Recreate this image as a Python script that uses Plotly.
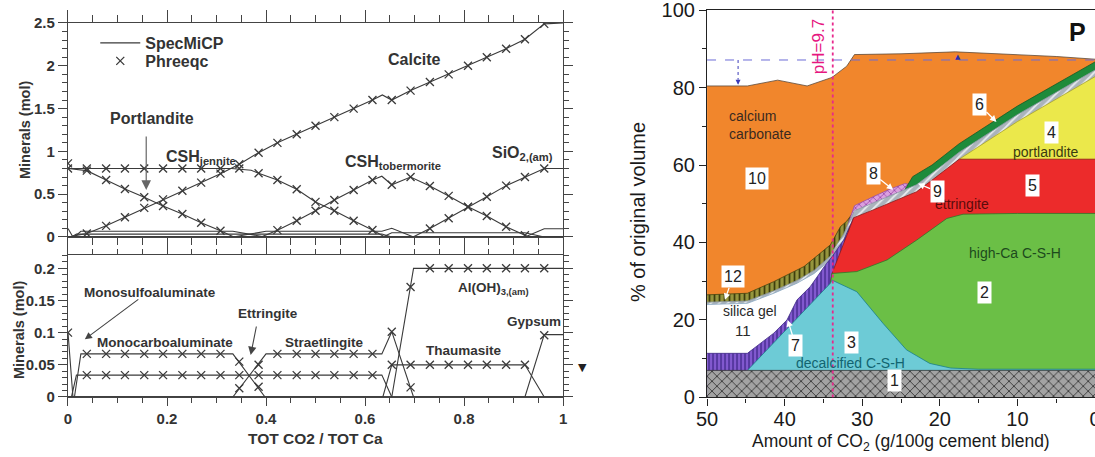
import plotly.graph_objects as go

# ======================= LEFT PANEL DATA =======================
x_phreeqc = [0, 0.038, 0.077, 0.115, 0.154, 0.192, 0.231, 0.269, 0.308, 0.346,
             0.385, 0.423, 0.462, 0.5, 0.538, 0.577, 0.615, 0.654, 0.692, 0.731,
             0.769, 0.808, 0.846, 0.885, 0.923, 0.962]
N = None
# --- upper panel (Phreeqc points) ---
calcite_phreeqc = [N, 0.04, 0.13, 0.23, 0.34, 0.44, 0.54, 0.635, 0.74, 0.85, 0.985, 1.10, 1.20,
                   1.30, 1.40, 1.50, 1.60, 1.60, 1.71, 1.81, 1.90, 2.00, 2.10, 2.20, 2.31, 2.49]
portlandite_phreeqc = [0.86, 0.775, 0.666, 0.56, 0.464, 0.362, 0.269, 0.167, 0.074, N, N, N, N,
                       N, N, N, N, N, N, N, N, N, N, N, N, N]
jennite_phreeqc = [0.8, 0.8, 0.8, 0.8, 0.8, 0.8, 0.8, 0.8, 0.8, 0.8, 0.744, 0.666, 0.557,
                   0.41, 0.307, 0.19, 0.082, N, N, N, N, N, N, N, N, N]
tobermorite_phreeqc = [N, N, N, N, N, N, N, N, N, N, N, 0.08, 0.19,
                       0.307, 0.432, 0.55, 0.666, 0.61, 0.70, 0.596, 0.48, 0.354, 0.245, 0.12, 0.02, N]
sio2_phreeqc = [N, N, N, N, N, N, N, N, N, N, N, N, N,
                N, N, N, N, N, N, 0.10, 0.22, 0.35, 0.47, 0.60, 0.70, 0.80]
# --- upper panel (SpecMiCP lines) ---
calcite_x = [0, 0.038, 0.077, 0.115, 0.154, 0.192, 0.231, 0.269, 0.308, 0.346, 0.385, 0.423, 0.462,
             0.5, 0.538, 0.577, 0.615, 0.635, 0.654, 0.692, 0.731, 0.769, 0.808, 0.846, 0.885, 0.923, 0.962, 1.0]
calcite_y = [0, 0.04, 0.13, 0.23, 0.34, 0.44, 0.54, 0.635, 0.74, 0.85, 0.985, 1.10, 1.20,
             1.30, 1.40, 1.50, 1.60, 1.66, 1.60, 1.71, 1.81, 1.90, 2.00, 2.10, 2.20, 2.31, 2.49, 2.5]
portlandite_x = [0, 0.038, 0.077, 0.115, 0.154, 0.192, 0.231, 0.269, 0.308, 0.335, 1.0]
portlandite_y = [0.8, 0.775, 0.666, 0.56, 0.464, 0.362, 0.269, 0.167, 0.074, 0, 0]
jennite_x = [0, 0.33, 0.37, 0.385, 0.423, 0.462, 0.5, 0.538, 0.577, 0.615, 0.64, 1.0]
jennite_y = [0.8, 0.8, 0.78, 0.744, 0.666, 0.557, 0.41, 0.307, 0.19, 0.082, 0, 0]
tobermorite_x = [0, 0.39, 0.423, 0.462, 0.5, 0.538, 0.577, 0.615, 0.634, 0.654, 0.692, 0.731,
                 0.769, 0.808, 0.846, 0.885, 0.923, 0.93, 1.0]
tobermorite_y = [0, 0, 0.08, 0.19, 0.307, 0.432, 0.55, 0.666, 0.71, 0.61, 0.70, 0.596,
                 0.48, 0.354, 0.245, 0.12, 0.02, 0, 0]
sio2_x = [0, 0.697, 0.731, 0.769, 0.808, 0.846, 0.885, 0.923, 0.962, 1.0]
sio2_y = [0, 0, 0.10, 0.22, 0.35, 0.47, 0.60, 0.70, 0.80, 0.80]

# --- lower panel (Phreeqc points) ---
monosulfo_phreeqc = [0.1, N, N, N, N, N, N, N, N, N, N, N, N, N, N, N, N, N, N, N, N, N, N, N, N, N]
monocarbo_phreeqc = [N, 0.067, 0.067, 0.067, 0.067, 0.067, 0.067, 0.067, 0.067, 0.055, 0.016, N, N,
                     N, N, N, N, N, N, N, N, N, N, N, N, N]
straetlingite_phreeqc = [N, N, N, N, N, N, N, N, N, 0.0135, 0.05, 0.067, 0.067,
                         0.067, 0.067, 0.067, 0.067, 0.1015, 0.015, N, N, N, N, N, N, N]
ettringite_phreeqc = [N, 0.034, 0.034, 0.034, 0.034, 0.034, 0.034, 0.034, 0.034, 0.034, 0.034, 0.034, 0.034,
                      0.034, 0.034, 0.034, 0.034, N, N, N, N, N, N, N, N, N]
thaumasite_phreeqc = [N, N, N, N, N, N, N, N, N, N, N, N, N,
                      N, N, N, N, 0.05, 0.05, 0.05, 0.05, 0.05, 0.05, 0.05, 0.05, N]
aloh3_phreeqc = [N, N, N, N, N, N, N, N, N, N, N, N, N,
                 N, N, N, N, N, 0.171, 0.2, 0.2, 0.2, 0.2, 0.2, 0.2, 0.2]
gypsum_phreeqc = [N, N, N, N, N, N, N, N, N, N, N, N, N,
                  N, N, N, N, N, N, N, N, N, N, N, N, 0.096]
# --- lower panel (SpecMiCP lines) ---
monosulfo_x = [0, 0.01, 1.0]
monosulfo_y = [0.1, 0, 0]
monocarbo_x = [0, 0.013, 0.026, 0.333, 0.398, 1.0]
monocarbo_y = [0, 0, 0.067, 0.067, 0, 0]
ettringite_x = [0, 0.007, 0.017, 0.634, 0.654, 1.0]
ettringite_y = [0, 0, 0.034, 0.034, 0, 0]
straetlingite_x = [0, 0.333, 0.4, 0.634, 0.654, 0.698, 1.0]
straetlingite_y = [0, 0, 0.067, 0.067, 0.1015, 0, 0]
thaumasite_x = [0, 0.636, 0.654, 0.923, 0.962, 1.0]
thaumasite_y = [0, 0, 0.05, 0.05, 0, 0]
aloh3_x = [0, 0.654, 0.698, 1.0]
aloh3_y = [0, 0, 0.2, 0.2]
gypsum_x = [0, 0.923, 0.962, 1.0]
gypsum_y = [0, 0, 0.097, 0.097]

# ======================= RIGHT PANEL DATA =======================
# upper boundary (% of original volume) of each layer vs. amount of CO2
x10 = [50, 44.8, 40.9, 37.1, 33.9, 32, 31, 25, 18, 10, 5, 0]
top10 = [80.4, 80.4, 81.9, 80.4, 82.6, 85.5, 88.5, 88.7, 89.2, 88.5, 88.0, 87.3]
x12 = [50, 44.8, 41.4, 37.5, 34.1, 32.8, 32, 31]
top12 = [26.5, 26.9, 29.9, 33.8, 39.4, 44.1, 45.5, 48.2]
x8 = [32, 31, 28.6, 26.4, 24.5, 23.5]
top8 = [43.8, 49.5, 51.8, 53.8, 55.2, 54.9]
x6 = [24.5, 23.5, 21, 17.5, 10, 5, 0]
top6 = [53.6, 57.0, 60.0, 65.5, 75.2, 81.0, 86.6]
x9 = [50, 44.8, 41.4, 38.4, 36.2, 34.1, 33.9, 32.4, 31, 28.6, 26, 23, 20, 18.7, 17.5, 10, 5, 0]
top9 = [24.6, 24.9, 27.5, 30.2, 32.8, 36.5, 37.5, 42.1, 48.2, 50.2, 52.4, 54.9, 59.4, 61.4, 63.3, 73.0, 78.8, 84.5]
x11 = [50, 44.8, 41.4, 38.4, 36.2, 34.1, 33.9]
top11 = [24.0, 24.3, 26.9, 29.5, 32.0, 35.5, 36.3]
x7 = [50, 44.8, 41.4, 39.7, 38.4, 36.7, 34.6, 33.9, 32.4, 31.1]
top7 = [11.4, 11.4, 16.6, 20.0, 25.2, 28.6, 34.6, 36.3, 40.6, 46.4]
x4 = [17.5, 10, 5, 0]
top4 = [61.5, 71.2, 77.0, 82.8]
x5 = [34.1, 33.9, 33, 32, 31.1, 28.6, 26, 23, 21, 18.7, 17.5, 10, 0]
top5 = [29.5, 32.0, 36.6, 41.7, 46.4, 48.4, 50.6, 53.1, 56.1, 59.6, 61.5, 61.5, 61.5]
x2 = [34.1, 33.9, 30.7, 26.8, 23, 19.1, 17, 10, 0]
top2 = [29.5, 32.0, 32.5, 35.5, 40.6, 46.2, 47.3, 47.5, 47.5]
x3 = [44.8, 42, 40, 38, 36.7, 34.1, 33.9, 30.7, 27.3, 24.3, 21.3, 18.6, 15, 10, 0]
top3 = [7.0, 12.9, 17.1, 21.3, 24.3, 29.5, 30.3, 27.3, 19.1, 12.3, 8.8, 7.6, 7.3, 7.3, 7.3]
x1 = [50, 0]
top1 = [7.0, 7.0]
ph_line_x = 33.8
volume_ref_level = 87.1

fig = go.Figure()

LINE_C = "#3a3a3a"
TXT_C = "#333333"

def add_line(x, y, ax, name=None, legend=None):
    fig.add_trace(go.Scatter(x=x, y=y, mode="lines", line=dict(color=LINE_C, width=1.1),
                             xaxis=ax[0], yaxis=ax[1], name=name or "", showlegend=legend is not None,
                             legend=legend or "legend", hoverinfo="skip"))

def add_pts(vals, ax, name=None, legend=None):
    xs = [x for x, v in zip(x_phreeqc, vals) if v is not None]
    ys = [v for v in vals if v is not None]
    fig.add_trace(go.Scatter(x=xs, y=ys, mode="markers",
                             marker=dict(symbol="x-thin-open", size=8, color=LINE_C,
                                         line=dict(width=1.3, color=LINE_C)),
                             xaxis=ax[0], yaxis=ax[1], name=name or "", showlegend=legend is not None,
                             legend=legend or "legend", hoverinfo="skip"))

TOP = ("x", "y")
BOT = ("x2", "y2")

# small minerals also appear near zero in the upper panel
for xx, yy in [(monosulfo_x, monosulfo_y), (monocarbo_x, monocarbo_y), (ettringite_x, ettringite_y),
               (straetlingite_x, straetlingite_y), (thaumasite_x, thaumasite_y), (gypsum_x, gypsum_y)]:
    add_line(xx, yy, TOP)

add_line(calcite_x, calcite_y, TOP, "SpecMiCP", "legend")
add_line(portlandite_x, portlandite_y, TOP)
add_line(jennite_x, jennite_y, TOP)
add_line(tobermorite_x, tobermorite_y, TOP)
add_line(sio2_x, sio2_y, TOP)
add_pts(calcite_phreeqc, TOP, "Phreeqc", "legend2")
for v in [portlandite_phreeqc, jennite_phreeqc, tobermorite_phreeqc, sio2_phreeqc]:
    add_pts(v, TOP)

for xx, yy in [(monosulfo_x, monosulfo_y), (monocarbo_x, monocarbo_y), (ettringite_x, ettringite_y),
               (straetlingite_x, straetlingite_y), (thaumasite_x, thaumasite_y), (aloh3_x, aloh3_y),
               (gypsum_x, gypsum_y)]:
    add_line(xx, yy, BOT)
for v in [monosulfo_phreeqc, monocarbo_phreeqc, straetlingite_phreeqc, ettringite_phreeqc,
          thaumasite_phreeqc, aloh3_phreeqc, gypsum_phreeqc]:
    add_pts(v, BOT)

# ---------------- right panel: painter's order, top layer first ----------------
layer_styles = [
    (x10, top10, "#f1862c", "#5d4a3a", None),
    (x12, top12, "#8e8e38", "#45450f", dict(shape="|", fgcolor="#3c3c0c", bgcolor="#96963e", size=5, solidity=0.35)),
    (x8, top8, "#d694dc", "#9a4fa6", dict(shape="x", fgcolor="#9c4aac", bgcolor="#dba0df", size=5, solidity=0.3)),
    (x6, top6, "#1e8b3b", "#145a26", None),
    (x9, top9, "#b8c0c8", "#8a98a4", dict(shape="/", fgcolor="#e9edf0", bgcolor="#aab3bc", size=6, solidity=0.3)),
    (x11, top11, "#ffffff", "#86a6c0", None),
    (x7, top7, "#7b50c6", "#3b2784", dict(shape="|", fgcolor="#3a2382", bgcolor="#8259cf", size=4, solidity=0.3)),
    (x4, top4, "#ebe84b", "#a9a52a", None),
    (x5, top5, "#ec2b2b", "#8c1a1a", None),
    (x2, top2, "#6bbf46", "#2d7a2a", None),
    (x3, top3, "#6dcbd6", "#1b7f8c", None),
    (x1, top1, "#9d9d9d", "#333333", dict(shape="x", fgcolor="#3a3a3a", bgcolor="#a3a3a3", size=7, solidity=0.25)),
]
for xx, yy, fc, lc, pat in layer_styles:
    kw = dict(x=xx, y=yy, mode="lines", fill="tozeroy", fillcolor=fc,
              line=dict(color=lc, width=0.8), xaxis="x3", yaxis="y3",
              showlegend=False, hoverinfo="skip")
    if pat:
        kw["fillpattern"] = dict(fillmode="replace", **pat)
    fig.add_trace(go.Scatter(**kw))

# ---------------- axes ----------------
LFONT = dict(family="Liberation Sans, Arial", size=15, color=TXT_C, weight="bold")
AXC = "#444444"
common_left = dict(showgrid=False, zeroline=False, showline=True, linecolor=AXC, linewidth=1.2,
                   ticks="outside", tickcolor=AXC, tickwidth=1, mirror="ticks", tickfont=LFONT,
                   automargin=False, ticklabeloverflow="allow")
LEGFONT = dict(family="Liberation Sans, Arial", size=16, color=TXT_C, weight="bold")
RTICK = dict(family="Liberation Sans, Arial", size=20, color="#1a1a1a")

fig.update_layout(
    width=1095, height=457, autosize=False,
    margin=dict(l=0, r=0, t=0, b=0, pad=0, autoexpand=False),
    paper_bgcolor="white", plot_bgcolor="white",
    xaxis=dict(domain=[0.0621, 0.5142], range=[0, 1], anchor="y", dtick=0.2, tick0=0,
               showticklabels=False, ticklen=12,
               minor=dict(dtick=0.05, ticks="outside", ticklen=7, tickcolor=AXC), **common_left),
    yaxis=dict(domain=[0.4814, 0.9497], range=[0, 2.5], anchor="x", dtick=0.5, tick0=0, ticklen=9,
               minor=dict(dtick=0.1, ticks="outside", ticklen=5, tickcolor=AXC), **common_left),
    xaxis2=dict(domain=[0.0621, 0.5142], range=[0, 1], anchor="y2", dtick=0.2, tick0=0, ticklen=8,
                minor=dict(dtick=0.05, ticks="outside", ticklen=5, tickcolor=AXC), **common_left),
    yaxis2=dict(domain=[0.1313, 0.4420], range=[0, 0.2207], anchor="x2", dtick=0.05, tick0=0, ticklen=9,
                minor=dict(dtick=0.01, ticks="outside", ticklen=5, tickcolor=AXC), **common_left),
    xaxis3=dict(domain=[0.6457, 1.0], range=[50, 0], anchor="y3", dtick=10, tick0=0,
                showgrid=False, zeroline=False, showline=True, linecolor="#222", linewidth=1.2,
                mirror=True, ticks="outside", ticklen=7, tickcolor="#222", automargin=False,
                ticklabeloverflow="allow", ticklabelstandoff=-4,
                minor=dict(dtick=5, ticks="outside", ticklen=4, tickcolor="#222"),
                tickfont=RTICK, layer="above traces"),
    yaxis3=dict(domain=[0.1302, 0.9781], range=[0, 100], anchor="x3", dtick=20, tick0=0,
                showgrid=False, zeroline=False, showline=True, linecolor="#222", linewidth=1.2,
                ticks="outside", ticklen=7, tickcolor="#222", automargin=False,
                ticklabeloverflow="allow",
                minor=dict(dtick=10, ticks="outside", ticklen=4, tickcolor="#222"),
                tickfont=RTICK, layer="above traces"),
    legend=dict(x=0.087, y=1 - 43 / 457, xanchor="left", yanchor="middle", bgcolor="rgba(0,0,0,0)",
                font=LEGFONT, itemwidth=40, borderwidth=0),
    legend2=dict(x=0.087, y=1 - 61 / 457, xanchor="left", yanchor="middle", bgcolor="rgba(0,0,0,0)",
                 font=LEGFONT, itemwidth=40, borderwidth=0),
)

# ---------------- shapes (right panel guides) ----------------
fig.add_shape(type="line", xref="x3", yref="y3", x0=50, x1=0, y0=volume_ref_level, y1=volume_ref_level,
              line=dict(color="#6b6bd6", width=1, dash="dash"))
fig.add_shape(type="line", xref="x3", yref="y3", x0=46, x1=46, y0=volume_ref_level, y1=82.0,
              line=dict(color="#3b3bb8", width=1, dash="dot"))
fig.add_shape(type="line", xref="x3", yref="y3", x0=ph_line_x, x1=ph_line_x, y0=0, y1=100,
              line=dict(color="#e8288c", width=1.8, dash="dot"))

# ---------------- annotations ----------------
ann = []
BF = lambda s: dict(family="Liberation Sans, Arial", size=s, color=TXT_C, weight="bold")

def txt(x, y, t, xref, yref, font, **kw):
    d = dict(x=x, y=y, text=t, xref=xref, yref=yref, showarrow=False, font=font,
             xanchor="center", yanchor="middle")
    d.update(kw)
    ann.append(d)

# upper-left labels
txt(0.170, 1.39, "Portlandite", "x", "y", BF(16))
txt(0.269, 0.93, "CSH<sub>jennite</sub>", "x", "y", BF(16))
txt(0.699, 2.07, "Calcite", "x", "y", BF(16))
txt(0.656, 0.875, "CSH<sub>tobermorite</sub>", "x", "y", BF(16))
txt(0.919, 0.98, "SiO<sub>2,(am)</sub>", "x", "y", BF(16))
ann.append(dict(x=0.158, y=0.55, xref="x", yref="y", text="", showarrow=True, ax=0, ay=-55,
                arrowhead=2, arrowsize=1.6, arrowwidth=1.2, arrowcolor="#666"))
# lower-left labels
txt(0.166, 0.163, "Monosulfoaluminate", "x2", "y2", BF(13.5))
txt(0.196, 0.084, "Monocarboaluminate", "x2", "y2", BF(13.5))
txt(0.404, 0.1305, "Ettringite", "x2", "y2", BF(13.5))
txt(0.519, 0.0844, "Straetlingite", "x2", "y2", BF(13.5))
txt(0.859, 0.168, "Al(OH)<sub>3,(am)</sub>", "x2", "y2", BF(13.5))
txt(0.941, 0.118, "Gypsum", "x2", "y2", BF(13.5))
txt(0.800, 0.0715, "Thaumasite", "x2", "y2", BF(13.5))
ann.append(dict(x=0.034, y=0.0897, xref="x2", yref="y2", text="", showarrow=True, ax=55, ay=-41,
                arrowhead=2, arrowsize=1.3, arrowwidth=1.1, arrowcolor="#444"))
ann.append(dict(x=0.369, y=0.0653, xref="x2", yref="y2", text="", showarrow=True, ax=6, ay=-30,
                arrowhead=2, arrowsize=1.5, arrowwidth=1.1, arrowcolor="#444"))
txt(582 / 1095, 1 - 367 / 457, "▼", "paper", "paper",
    dict(family="DejaVu Sans", size=11, color="#222"))
# left axis titles
txt(315 / 1095, 1 - 438 / 457, "TOT CO2 / TOT Ca", "paper", "paper", BF(15.5))
txt(25 / 1095, 1 - 130 / 457, "Minerals (mol)", "paper", "paper", BF(14.5), textangle=-90)
txt(19 / 1095, 1 - 330 / 457, "Minerals (mol)", "paper", "paper", BF(14.5), textangle=-90)

# right panel titles
RF = lambda s, c="#1a1a1a": dict(family="Liberation Sans, Arial", size=s, color=c)
txt(901 / 1095, 1 - 442 / 457, "Amount of CO<sub>2</sub> (g/100g cement blend)", "paper", "paper", RF(17.5))
txt(638 / 1095, 1 - 212 / 457, "% of original volume", "paper", "paper", RF(20), textangle=-90)

# right panel labels
txt(47.4, 70.2, "calcium<br>carbonate", "x3", "y3", RF(14, "#3a2a20"), xanchor="left", align="left")
box = dict(bgcolor="white", borderpad=2)
for (xv, yv, t) in [(43.6, 56.6, "10"), (25.8, 4.3, "1"), (14.2, 27.2, "2"), (31.4, 14.3, "3"),
                    (5.6, 68.3, "4"), (8.1, 54.8, "5")]:
    txt(xv, yv, t, "x3", "y3", RF(16, "#222"), **box)
txt(6.3, 63.4, "portlandite", "x3", "y3", RF(14, "#3a3a10"))
txt(17.2, 50.0, "ettringite", "x3", "y3", RF(14, "#5a0c0c"))
txt(10.3, 37.3, "high-Ca C-S-H", "x3", "y3", RF(14, "#1d4a1d"))
txt(31.5, 8.9, "decalcified C-S-H", "x3", "y3", RF(14, "#126470"))
txt(44.5, 22.3, "silica gel", "x3", "y3", RF(14, "#2a2a2a"))
txt(45.4, 17.4, "11", "x3", "y3", RF(15, "#2a2a2a"))
# boxed numbers with white arrows
for (tx, ty, axp, ayp, t) in [(12.7, 71.1, -17, -17, "6"), (39.6, 20.0, 8, 26, "7"),
                              (26.0, 53.6, -20, -16, "8"), (22.8, 55.2, 19, 8, "9"),
                              (47.7, 25.2, 8, -23, "12")]:
    ann.append(dict(x=tx, y=ty, xref="x3", yref="y3", text=t, showarrow=True, ax=axp, ay=ayp,
                    arrowhead=2, arrowsize=1.0, arrowwidth=1.3, arrowcolor="white",
                    font=RF(16, "#222"), bgcolor="white", borderpad=2))
txt(2.3, 94.3, "P", "x3", "y3", dict(family="Liberation Sans, Arial", size=25, color="#111", weight="bold"))
txt(35.6, 90.6, "pH=9.7", "x3", "y3", RF(17, "#e6177f"), textangle=-90)
ann.append(dict(x=46, y=80.7, xref="x3", yref="y3", text="", showarrow=True, ax=0, ay=-6,
                arrowhead=2, arrowsize=1.0, arrowwidth=1, arrowcolor="#3b3bb8"))
txt(17.7, 87.9, "▲", "x3", "y3", dict(family="DejaVu Sans", size=7, color="#2b2bb0"))

fig.update_layout(annotations=ann)
fig.write_html("out.html")
